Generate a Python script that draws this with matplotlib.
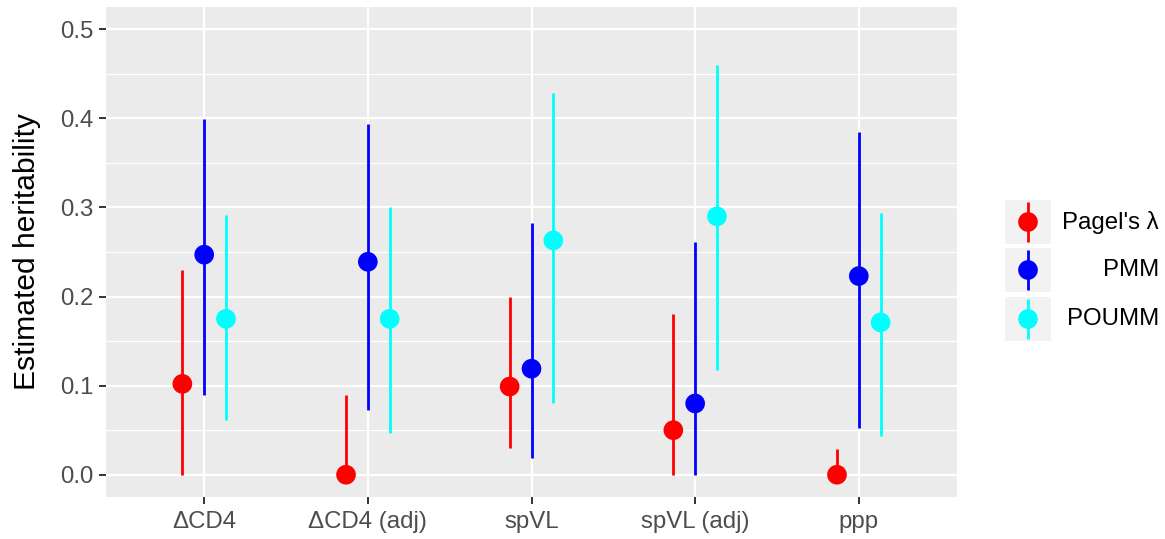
import matplotlib
matplotlib.use("Agg")
import matplotlib.pyplot as plt
import numpy as np

plt.rcParams['font.family'] = ['Liberation Sans', 'DejaVu Sans']

# данные
traits = ['ΔCD4', 'ΔCD4 (adj)', 'spVL', 'spVL (adj)', 'ppp']
methods = ["Pagel's λ", 'PMM', 'POUMM']
colors = ['#FF0000', '#0000FF', '#00FFFF']

est_pagel = [0.102, 0.000, 0.099, 0.050, 0.000]
lo_pagel = [0.000, 0.000, 0.030, 0.000, 0.000]
hi_pagel = [0.230, 0.090, 0.200, 0.180, 0.029]

est_pmm = [0.247, 0.239, 0.119, 0.080, 0.223]
lo_pmm = [0.090, 0.073, 0.019, 0.000, 0.052]
hi_pmm = [0.399, 0.394, 0.282, 0.261, 0.385]

est_poumm = [0.175, 0.175, 0.263, 0.290, 0.171]
lo_poumm = [0.061, 0.047, 0.081, 0.117, 0.043]
hi_poumm = [0.292, 0.301, 0.429, 0.460, 0.294]

est = [est_pagel, est_pmm, est_poumm]
lo = [lo_pagel, lo_pmm, lo_poumm]
hi = [hi_pagel, hi_pmm, hi_poumm]

W, H = 1165, 539
fig = plt.figure(figsize=(W / 100, H / 100), dpi=100)
fig.patch.set_facecolor('white')

# панель в пикселях
pl, pr, pt, pb = 106, 957, 7, 497
ax = fig.add_axes([pl / W, (H - pb) / H, (pr - pl) / W, (pb - pt) / H])
ax.set_facecolor('#EBEBEB')
for s in ax.spines.values():
    s.set_visible(False)

x = np.arange(len(traits))
dodge = 0.4 / 3
for k in range(3):
    xs = x + (k - 1) * dodge
    ax.vlines(xs, lo[k], hi[k], color=colors[k], lw=2.0, zorder=3)
    ax.scatter(xs, est[k], s=200, color=colors[k], edgecolors='none', zorder=4)

ax.set_xlim(-0.6, len(traits) - 0.4)
ax.set_ylim(-0.025, 0.525)
ax.set_xticks(x)
ax.set_xticklabels(traits)
ax.set_yticks([0.0, 0.1, 0.2, 0.3, 0.4, 0.5])
ax.set_yticklabels(['0.0', '0.1', '0.2', '0.3', '0.4', '0.5'])
ax.set_yticks(np.arange(0.05, 0.5, 0.1), minor=True)
ax.tick_params(axis='both', which='major', length=5, width=1.4, color='#333333',
               labelsize=17.3, labelcolor='#4D4D4D')
ax.tick_params(axis='x', pad=5)
ax.tick_params(axis='y', pad=4)
ax.tick_params(axis='y', which='minor', length=0)
ax.grid(True, which='major', color='white', lw=1.6, zorder=0)
ax.grid(True, which='minor', axis='y', color='white', lw=0.8, zorder=0)
ax.set_axisbelow(True)
ax.set_ylabel('Estimated heritability', fontsize=21.6, color='black', labelpad=14)

# легенда
kl, kw, kh = 1005, 46, 44
ktops = [200, 248, 297]
for k in range(3):
    kax = fig.add_axes([kl / W, (H - ktops[k] - kh) / H, kw / W, kh / H])
    kax.set_facecolor('#F2F2F2')
    for s in kax.spines.values():
        s.set_visible(False)
    kax.set_xticks([])
    kax.set_yticks([])
    kax.set_xlim(0, 1)
    kax.set_ylim(0, 1)
    kax.vlines(0.5, 0.05, 0.95, color=colors[k], lw=2.0)
    kax.scatter([0.5], [0.5], s=200, color=colors[k], edgecolors='none', zorder=3)
    fig.text(1159 / W, (H - ktops[k] - kh / 2) / H, methods[k], ha='right', va='center',
             fontsize=17.3, color='black')

fig.savefig('out.png', dpi=100)
